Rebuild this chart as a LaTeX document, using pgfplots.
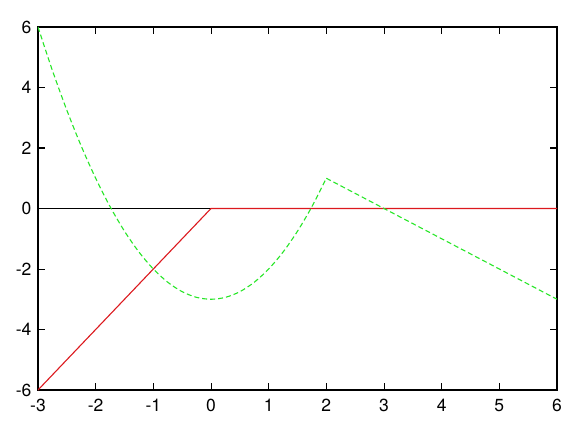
\documentclass[border=0pt]{standalone}
\usepackage{fontspec}
\setmainfont{TeX Gyre Heros}
\usepackage{pgfplots}
\pgfplotsset{compat=1.18}
\definecolor{gpred}{RGB}{220,25,30}
\definecolor{gpgreen}{RGB}{40,230,40}
\newcommand{\tl}{\fontsize{17.5}{21}\selectfont}
\begin{document}
\begin{tikzpicture}
\begin{axis}[name=ax,
  scale only axis, width=519pt, height=363pt,
  xmin=-3, xmax=6, ymin=-6, ymax=6,
  xtick={-3,...,6}, ytick={-6,-4,...,6},
  tick align=inside, major tick length=7pt,
  minor tick num=0,
  axis line style={line width=1.3pt},
  every tick/.style={line width=1pt, black},
  /pgf/number format/assume math mode=true,
  xticklabel={\tl\pgfmathprintnumber{\tick}},
  yticklabel={\tl\pgfmathprintnumber{\tick}},
  xticklabel style={yshift=-6pt},
  yticklabel style={xshift=-3pt},
  clip=true,
]
\addplot[black, line width=0.9pt] coordinates {(-3,0) (6,0)};
\addplot[gpred, line width=1.1pt] coordinates {(-3,-6) (0,0) (6,0)};
\addplot[gpgreen, line width=1.1pt, dash pattern=on 5pt off 3pt, smooth] coordinates {
(-3,6) (-2.75,4.5625) (-2.5,3.25) (-2.25,2.0625) (-2,1) (-1.75,0.0625)
(-1.5,-0.75) (-1.25,-1.4375) (-1,-2) (-0.75,-2.4375) (-0.5,-2.75)
(-0.25,-2.9375) (0,-3) (0.25,-2.9375) (0.5,-2.75) (0.75,-2.4375)
(1,-2) (1.25,-1.4375) (1.5,-0.75) (1.75,0.0625) (2,1)};
\addplot[gpgreen, line width=1.1pt, dash pattern=on 5pt off 3pt] coordinates {(2,1) (6,-3)};
\end{axis}
\pgfresetboundingbox
\path ([xshift=-38pt,yshift=-45pt]ax.south west) rectangle ([xshift=25pt,yshift=27pt]ax.north east);
\end{tikzpicture}
\end{document}
